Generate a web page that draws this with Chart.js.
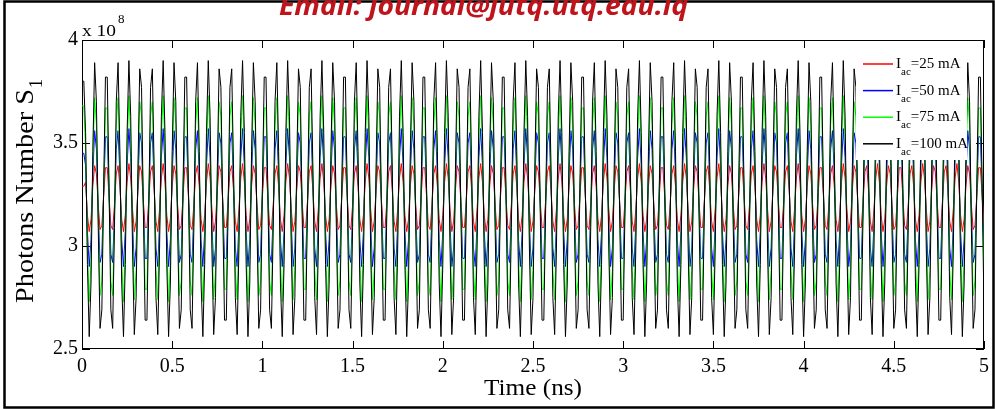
<!DOCTYPE html>
<html>
<head>
<meta charset="utf-8">
<script src="https://cdn.jsdelivr.net/npm/chart.js@4.4.1/dist/chart.umd.min.js"></script>
<style>
    html, body { margin: 0; padding: 0; background: #fff; }
    #wrap { width: 995px; height: 409px; }
</style>
</head>
<body>
<div id="wrap"><canvas id="photonChart" width="995" height="409"></canvas></div>
<script>
// Modulation currents (mA) and line colours, same order as the legend
const currents = [25, 50, 75, 100];
const lineColors = ['#ff0000', '#0000ff', '#00ff00', '#000000'];

// Axis ticks
const xTicks = [0, 0.5, 1, 1.5, 2, 2.5, 3, 3.5, 4, 4.5, 5];   // Time (ns)
const yTicks = [2.5, 3, 3.5, 4];                             // x 10^8

// One sample every 0.01 ns, photon number S1 in units of 1e6
const timeStep = 0.01;

const photons25 = [
329,329,331,315,307,313,329,339,335,320,308,310,324,338,338,324,310,308,320,335,339,329,313,307,315,331,340,333,318,307,312,327,339,336,322,309,309,322,336,339,327,312,307,318,
333,340,331,315,307,313,329,339,335,320,308,310,324,338,338,324,310,308,320,335,339,329,313,307,315,331,340,333,318,307,312,327,339,336,322,309,309,322,336,339,327,312,307,318,
333,340,331,315,307,313,329,339,335,320,308,310,324,338,338,324,310,308,320,335,339,329,313,307,315,331,340,333,318,307,312,327,339,336,322,309,309,322,336,339,327,312,307,318,
333,340,331,315,307,313,329,339,335,320,308,310,324,338,338,324,310,308,320,335,339,329,313,307,315,331,340,333,318,307,312,327,339,336,322,309,309,322,336,339,327,312,307,318,
333,340,331,315,307,313,329,339,335,320,308,310,324,338,338,324,310,308,320,335,339,329,313,307,315,331,340,333,318,307,312,327,339,336,322,309,309,322,336,339,327,312,307,318,
333,340,331,315,307,313,329,339,335,320,308,310,324,338,338,324,310,308,320,335,339,329,313,307,315,331,340,333,318,307,312,327,339,336,322,309,309,322,336,339,327,312,307,318,
333,340,331,315,307,313,329,339,335,320,308,310,324,338,338,324,310,308,320,335,339,329,313,307,315,331,340,333,318,307,312,327,339,336,322,309,309,322,336,339,327,312,307,318,
333,340,331,315,307,313,329,339,335,320,308,310,324,338,338,324,310,308,320,335,339,329,313,307,315,331,340,333,318,307,312,327,339,336,322,309,309,322,336,339,327,312,307,318,
333,340,331,315,307,313,329,339,335,320,308,310,324,338,338,324,310,308,320,335,339,329,313,307,315,331,340,333,318,307,312,327,339,336,322,309,309,322,336,339,327,312,307,318,
333,340,331,315,307,313,329,339,335,320,308,310,324,338,338,324,310,308,320,335,339,329,313,307,315,331,340,333,318,307,312,327,339,336,322,309,309,322,336,339,327,312,307,318,
333,340,331,315,307,313,329,339,335,320,308,310,324,338,338,324,310,308,320,335,339,329,313,307,315,331,340,333,318,307,312,327,339,336,322,309,309,322,336,339,327,312,307,318,
333,340,331,315,307,313,329,339,335,320,308,310,324,338,338,324,310
];

const photons50 = [
345,345,339,307,290,303,335,356,347,316,292,296,326,353,353,326,296,292,316,347,356,335,303,290,307,339,357,343,311,290,299,330,355,350,321,294,294,321,350,355,330,299,290,311,
343,357,339,307,290,303,335,356,347,316,292,296,326,353,353,326,296,292,316,347,356,335,303,290,307,339,357,343,311,290,299,330,355,350,321,294,294,321,350,355,330,299,290,311,
343,357,339,307,290,303,335,356,347,316,292,296,326,353,353,326,296,292,316,347,356,335,303,290,307,339,357,343,311,290,299,330,355,350,321,294,294,321,350,355,330,299,290,311,
343,357,339,307,290,303,335,356,347,316,292,296,326,353,353,326,296,292,316,347,356,335,303,290,307,339,357,343,311,290,299,330,355,350,321,294,294,321,350,355,330,299,290,311,
343,357,339,307,290,303,335,356,347,316,292,296,326,353,353,326,296,292,316,347,356,335,303,290,307,339,357,343,311,290,299,330,355,350,321,294,294,321,350,355,330,299,290,311,
343,357,339,307,290,303,335,356,347,316,292,296,326,353,353,326,296,292,316,347,356,335,303,290,307,339,357,343,311,290,299,330,355,350,321,294,294,321,350,355,330,299,290,311,
343,357,339,307,290,303,335,356,347,316,292,296,326,353,353,326,296,292,316,347,356,335,303,290,307,339,357,343,311,290,299,330,355,350,321,294,294,321,350,355,330,299,290,311,
343,357,339,307,290,303,335,356,347,316,292,296,326,353,353,326,296,292,316,347,356,335,303,290,307,339,357,343,311,290,299,330,355,350,321,294,294,321,350,355,330,299,290,311,
343,357,339,307,290,303,335,356,347,316,292,296,326,353,353,326,296,292,316,347,356,335,303,290,307,339,357,343,311,290,299,330,355,350,321,294,294,321,350,355,330,299,290,311,
343,357,339,307,290,303,335,356,347,316,292,296,326,353,353,326,296,292,316,347,356,335,303,290,307,339,357,343,311,290,299,330,355,350,321,294,294,321,350,355,330,299,290,311,
343,357,339,307,290,303,335,356,347,316,292,296,326,353,353,326,296,292,316,347,356,335,303,290,307,339,357,343,311,290,299,330,355,350,321,294,294,321,350,355,330,299,290,311,
343,357,339,307,290,303,335,356,347,316,292,296,326,353,353,326,296
];

const photons75 = [
368,368,347,299,273,293,341,372,359,313,276,283,327,367,367,327,283,276,313,359,372,341,293,273,299,347,373,353,306,274,288,334,370,363,320,279,279,320,363,370,334,288,274,306,
353,373,347,299,273,293,341,372,359,313,276,283,327,367,367,327,283,276,313,359,372,341,293,273,299,347,373,353,306,274,288,334,370,363,320,279,279,320,363,370,334,288,274,306,
353,373,347,299,273,293,341,372,359,313,276,283,327,367,367,327,283,276,313,359,372,341,293,273,299,347,373,353,306,274,288,334,370,363,320,279,279,320,363,370,334,288,274,306,
353,373,347,299,273,293,341,372,359,313,276,283,327,367,367,327,283,276,313,359,372,341,293,273,299,347,373,353,306,274,288,334,370,363,320,279,279,320,363,370,334,288,274,306,
353,373,347,299,273,293,341,372,359,313,276,283,327,367,367,327,283,276,313,359,372,341,293,273,299,347,373,353,306,274,288,334,370,363,320,279,279,320,363,370,334,288,274,306,
353,373,347,299,273,293,341,372,359,313,276,283,327,367,367,327,283,276,313,359,372,341,293,273,299,347,373,353,306,274,288,334,370,363,320,279,279,320,363,370,334,288,274,306,
353,373,347,299,273,293,341,372,359,313,276,283,327,367,367,327,283,276,313,359,372,341,293,273,299,347,373,353,306,274,288,334,370,363,320,279,279,320,363,370,334,288,274,306,
353,373,347,299,273,293,341,372,359,313,276,283,327,367,367,327,283,276,313,359,372,341,293,273,299,347,373,353,306,274,288,334,370,363,320,279,279,320,363,370,334,288,274,306,
353,373,347,299,273,293,341,372,359,313,276,283,327,367,367,327,283,276,313,359,372,341,293,273,299,347,373,353,306,274,288,334,370,363,320,279,279,320,363,370,334,288,274,306,
353,373,347,299,273,293,341,372,359,313,276,283,327,367,367,327,283,276,313,359,372,341,293,273,299,347,373,353,306,274,288,334,370,363,320,279,279,320,363,370,334,288,274,306,
353,373,347,299,273,293,341,372,359,313,276,283,327,367,367,327,283,276,313,359,372,341,293,273,299,347,373,353,306,274,288,334,370,363,320,279,279,320,363,370,334,288,274,306,
353,373,347,299,273,293,341,372,359,313,276,283,327,367,367,327,283
];

const photons100 = [
380,380,355,291,256,282,346,389,370,309,260,269,328,382,382,328,269,260,309,370,389,346,282,256,291,355,390,363,299,257,275,337,386,377,318,264,264,318,377,386,337,275,257,299,
363,390,355,291,256,282,346,389,370,309,260,269,328,382,382,328,269,260,309,370,389,346,282,256,291,355,390,363,299,257,275,337,386,377,318,264,264,318,377,386,337,275,257,299,
363,390,355,291,256,282,346,389,370,309,260,269,328,382,382,328,269,260,309,370,389,346,282,256,291,355,390,363,299,257,275,337,386,377,318,264,264,318,377,386,337,275,257,299,
363,390,355,291,256,282,346,389,370,309,260,269,328,382,382,328,269,260,309,370,389,346,282,256,291,355,390,363,299,257,275,337,386,377,318,264,264,318,377,386,337,275,257,299,
363,390,355,291,256,282,346,389,370,309,260,269,328,382,382,328,269,260,309,370,389,346,282,256,291,355,390,363,299,257,275,337,386,377,318,264,264,318,377,386,337,275,257,299,
363,390,355,291,256,282,346,389,370,309,260,269,328,382,382,328,269,260,309,370,389,346,282,256,291,355,390,363,299,257,275,337,386,377,318,264,264,318,377,386,337,275,257,299,
363,390,355,291,256,282,346,389,370,309,260,269,328,382,382,328,269,260,309,370,389,346,282,256,291,355,390,363,299,257,275,337,386,377,318,264,264,318,377,386,337,275,257,299,
363,390,355,291,256,282,346,389,370,309,260,269,328,382,382,328,269,260,309,370,389,346,282,256,291,355,390,363,299,257,275,337,386,377,318,264,264,318,377,386,337,275,257,299,
363,390,355,291,256,282,346,389,370,309,260,269,328,382,382,328,269,260,309,370,389,346,282,256,291,355,390,363,299,257,275,337,386,377,318,264,264,318,377,386,337,275,257,299,
363,390,355,291,256,282,346,389,370,309,260,269,328,382,382,328,269,260,309,370,389,346,282,256,291,355,390,363,299,257,275,337,386,377,318,264,264,318,377,386,337,275,257,299,
363,390,355,291,256,282,346,389,370,309,260,269,328,382,382,328,269,260,309,370,389,346,282,256,291,355,390,363,299,257,275,337,386,377,318,264,264,318,377,386,337,275,257,299,
363,390,355,291,256,282,346,389,370,309,260,269,328,382,382,328,269
];

const seriesData = [photons25, photons50, photons75, photons100];
const times = photons25.map((_, i) => +(i * timeStep).toFixed(2));

const SERIF = "'Liberation Serif', 'Times New Roman', serif";

// Draw a string squeezed/stretched to a given width
function fitText(ctx, str, x, y, font, width) {
    ctx.font = font;
    const w = ctx.measureText(str).width;
    ctx.save();
    ctx.translate(x, y);
    ctx.scale(width / w, 1);
    ctx.fillText(str, 0, 0);
    ctx.restore();
}

const figureDecor = {
    id: 'figureDecor',
    beforeDraw(chart) {
        const ctx = chart.ctx;
        ctx.save();
        ctx.fillStyle = '#fff';
        ctx.fillRect(0, 0, chart.width, chart.height);
        ctx.restore();
    },
    // axes box with inward ticks on all four sides (under the curves)
    beforeDatasetsDraw(chart) {
        const { ctx, chartArea: a, scales: { x, y } } = chart;
        const tl = 8;
        ctx.save();
        ctx.strokeStyle = '#000';
        ctx.lineWidth = 1;
        ctx.strokeRect(a.left + 0.5, a.top + 0.5, a.right - a.left - 1, a.bottom - a.top - 1);
        ctx.beginPath();
        x.ticks.forEach(t => {
            const px = Math.round(x.getPixelForValue(t.value)) + 0.5;
            ctx.moveTo(px, a.bottom); ctx.lineTo(px, a.bottom - tl);
            ctx.moveTo(px, a.top); ctx.lineTo(px, a.top + tl);
        });
        y.ticks.forEach(t => {
            const py = Math.round(y.getPixelForValue(t.value)) + 0.5;
            ctx.moveTo(a.left, py); ctx.lineTo(a.left + tl, py);
            ctx.moveTo(a.right, py); ctx.lineTo(a.right - tl, py);
        });
        ctx.stroke();
        ctx.restore();
    },
    afterDatasetsDraw(chart) {
        const { ctx, chartArea: a } = chart;
        ctx.save();
        // legend, white box without border in the top right corner
        const lx = 856, ly = a.top + 1, lw = a.right - 17 - lx, lh = 119;
        ctx.fillStyle = '#fff';
        ctx.fillRect(lx, ly, lw, lh);
        chart.data.datasets.forEach((ds, i) => {
            const rowY = 64 + i * 26.6;
            ctx.strokeStyle = ds.borderColor;
            ctx.lineWidth = 1.5;
            ctx.beginPath();
            ctx.moveTo(863, rowY);
            ctx.lineTo(893, rowY);
            ctx.stroke();
            ctx.fillStyle = '#000';
            ctx.textBaseline = 'alphabetic';
            ctx.textAlign = 'left';
            ctx.font = '15px ' + SERIF;
            ctx.fillText('I', 896, rowY + 4);
            const iw = ctx.measureText('I').width;
            ctx.font = '11px ' + SERIF;
            ctx.fillText('ac', 896 + iw, rowY + 11);
            const acw = ctx.measureText('ac').width;
            ctx.font = '15px ' + SERIF;
            ctx.fillText('=' + currents[i] + ' mA', 896 + iw + acw, rowY + 4);
        });
        ctx.restore();
    },
    afterDraw(chart) {
        const { ctx } = chart;
        ctx.save();
        ctx.fillStyle = '#000';
        ctx.textBaseline = 'alphabetic';
        ctx.textAlign = 'left';

        // exponent label above the y axis
        fitText(ctx, 'x 10', 82, 36, '16px ' + SERIF, 34);
        ctx.font = '13px ' + SERIF;
        ctx.fillText('8', 118, 23);

        // x axis title
        fitText(ctx, 'Time (ns)', 484, 395, '23px ' + SERIF, 98);

        // y axis title with subscript, rotated
        ctx.save();
        ctx.translate(33, 303);
        ctx.rotate(-Math.PI / 2);
        fitText(ctx, 'Photons Number S', 0, 0, '26px ' + SERIF, 214);
        ctx.font = '18px ' + SERIF;
        ctx.fillText('1', 215, 9);
        ctx.restore();

        // outer page frame
        ctx.strokeStyle = '#000';
        ctx.lineWidth = 2.5;
        ctx.strokeRect(4.5, 1.5, 989, 406);

        // journal header, cut off by the top edge
        ctx.fillStyle = '#c0141c';
        fitText(ctx, 'Email: journal@jutq.utq.edu.iq', 279, 15, 'italic bold 26px "Open Sans", sans-serif', 409);
        ctx.restore();
    }
};

new Chart(document.getElementById('photonChart'), {
    type: 'line',
    data: {
        labels: times,
        datasets: seriesData.map((vals, i) => ({
            label: 'I_ac=' + currents[i] + ' mA',
            data: vals.map(v => v / 100),
            borderColor: lineColors[i],
            borderWidth: 1,
            pointRadius: 0,
            tension: 0,
            fill: false,
            order: seriesData.length - i   // black drawn last, on top
        }))
    },
    options: {
        responsive: false,
        animation: false,
        events: [],
        layout: { padding: { left: 0, right: 10, top: 40, bottom: 0 } },
        plugins: {
            legend: { display: false },
            tooltip: { enabled: false }
        },
        scales: {
            x: {
                type: 'linear',
                min: 0,
                max: 5,
                afterFit: s => { s.height = 60; },
                afterBuildTicks: s => { s.ticks = xTicks.map(v => ({ value: v })); },
                grid: { display: false, drawTicks: false },
                border: { display: false },
                ticks: {
                    color: '#000',
                    padding: 6,
                    maxRotation: 0,
                    autoSkip: false,
                    font: { family: SERIF, size: 20 },
                    callback: v => String(v)
                }
            },
            y: {
                type: 'linear',
                min: 2.5,
                max: 4,
                afterFit: s => { s.width = 82; },
                afterBuildTicks: s => { s.ticks = yTicks.map(v => ({ value: v })); },
                grid: { display: false, drawTicks: false },
                border: { display: false },
                ticks: {
                    color: '#000',
                    padding: 4,
                    font: { family: SERIF, size: 20 },
                    callback: v => String(v)
                }
            }
        }
    },
    plugins: [figureDecor]
});
</script>
</body>
</html>
